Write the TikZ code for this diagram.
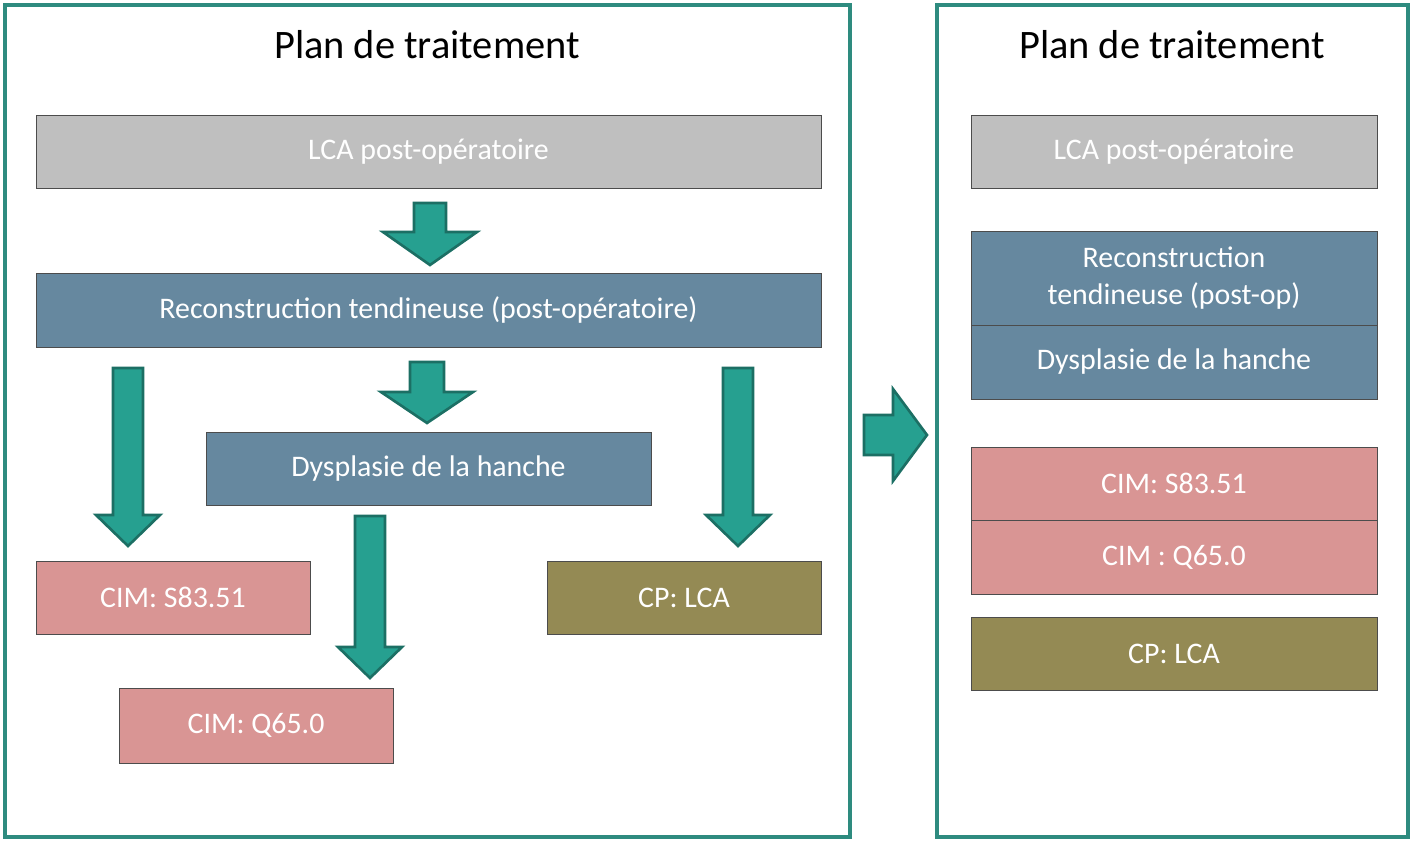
\documentclass[tikz,border=0pt]{standalone}
\usepackage{fontspec}
\setmainfont{Carlito}
\definecolor{frame}{HTML}{2E8B7F}
\definecolor{arrfill}{HTML}{26A090}
\definecolor{arrline}{HTML}{1C6F64}
\definecolor{grayb}{HTML}{BFBFBF}
\definecolor{blueb}{HTML}{66889F}
\definecolor{pinkb}{HTML}{D99594}
\definecolor{oliveb}{HTML}{948A54}
\tikzset{
 frm/.style={draw=frame,line width=2.2pt},
 bx/.style={draw=black!70,line width=0.5pt,text=white,font=\fontsize{17}{21}\selectfont,align=center},
 ttl/.style={font=\fontsize{23}{27}\selectfont},
 barr/.style={fill=arrfill,draw=arrline,line width=1.5pt,line join=miter},
}
\newcommand\blockdown[6]{\path[barr] (#1-#5,#2) -- (#1+#5,#2) -- (#1+#5,#3) -- (#1+#6,#3) -- (#1,#4) -- (#1-#6,#3) -- (#1-#5,#3) -- cycle;}
\begin{document}
\begin{tikzpicture}[x=0.02cm,y=-0.02cm]
\useasboundingbox (0,0) rectangle (1411,842);
\draw[frm] (5,5) rectangle (850,837);
\draw[frm] (937,5) rectangle (1408,837);
\node[ttl] (t1) at (427,45) {Plan de traitement};
\node[ttl] (t2) at (1172,45) {Plan de traitement};
\draw[bx,fill=grayb] (36,115) rectangle node (a) {LCA post-opératoire} (821,188);
\draw[bx,fill=blueb] (36,273) rectangle node (b) {Reconstruction tendineuse (post-opératoire)} (821,347);
\draw[bx,fill=blueb] (206,432) rectangle node (c) {Dysplasie de la hanche} (651,505);
\draw[bx,fill=pinkb] (36,561) rectangle node (d) {CIM: S83.51} (310,634);
\draw[bx,fill=oliveb] (547,561) rectangle node (e) {CP: LCA} (821,634);
\draw[bx,fill=pinkb] (119,688) rectangle node (f) {CIM: Q65.0} (393,763);
\blockdown{430}{203}{232}{265}{16}{47}
\blockdown{427}{362}{392}{423}{17}{46}
\blockdown{128}{368}{515}{546}{15}{32}
\blockdown{738}{368}{515}{546}{15}{32}
\blockdown{370}{516}{647}{678}{15}{32}
\path[barr] (864,415) -- (893,415) -- (893,389) -- (927,435) -- (893,481) -- (893,455) -- (864,455) -- cycle;
\draw[bx,fill=grayb] (971,115) rectangle node (g) {LCA post-opératoire} (1377,188);
\draw[bx,fill=blueb] (971,231) rectangle node (h) {Reconstruction\\tendineuse (post-op)} (1377,325);
\draw[bx,fill=blueb] (971,325) rectangle node (i) {Dysplasie de la hanche} (1377,399);
\draw[bx,fill=pinkb] (971,447) rectangle node (j) {CIM: S83.51} (1377,520);
\draw[bx,fill=pinkb] (971,520) rectangle node (k) {CIM : Q65.0} (1377,594);
\draw[bx,fill=oliveb] (971,617) rectangle node (l) {CP: LCA} (1377,690);
\end{tikzpicture}
\end{document}
